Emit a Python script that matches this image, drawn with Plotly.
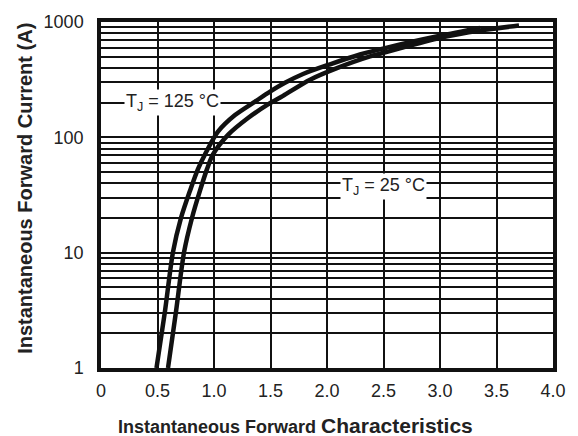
import plotly.graph_objects as go

v_125 = [0.491, 0.566, 0.637, 0.708, 0.788, 0.858, 0.920, 1.035, 1.186, 1.363, 1.496, 1.628, 1.788, 2.027, 2.292, 2.531, 3.0, 3.354]
i_125 = [1, 3.1, 10.1, 20, 34.5, 53, 71, 112, 156, 204, 249, 297, 354, 430, 523, 600, 759, 888]
v_25 = [0.593, 0.664, 0.735, 0.805, 0.876, 0.938, 0.991, 1.124, 1.301, 1.478, 1.611, 1.850, 2.088, 2.381, 2.531, 3.0, 3.354, 3.699]
i_25 = [1, 3.1, 10.1, 20, 34.5, 53, 71, 105, 147, 193, 229, 316, 398, 503, 550, 730, 845, 931]

x_ticks = [0, 0.5, 1.0, 1.5, 2.0, 2.5, 3.0, 3.5, 4.0]
x_labels = ["0", "0.5", "1.0", "1.5", "2.0", "2.5", "3.0", "3.5", "4.0"]
y_ticks = [1, 10, 100, 1000]
y_labels = ["1", "10", "100", "1000"]

fig = go.Figure()
for v, i in [(v_125, i_125), (v_25, i_25)]:
    fig.add_trace(go.Scatter(x=v, y=i, mode="lines",
                             line=dict(color="#111111", width=4.5, shape="spline", smoothing=0.8),
                             showlegend=False))

font = "Liberation Sans, Arial, sans-serif"
fig.update_layout(
    width=578, height=436,
    margin=dict(l=101, r=25, t=15, b=68),
    paper_bgcolor="white", plot_bgcolor="white",
    font=dict(family=font, color="#222222", size=17),
    xaxis=dict(range=[0, 4.0], tickvals=x_ticks, ticktext=x_labels,
               showgrid=True, gridcolor="#111111", gridwidth=2,
               showline=True, linecolor="#111111", linewidth=3.5, mirror=True,
               ticks="", zeroline=False, tickfont=dict(size=18, color="#222222"),
               ticklabelstandoff=4),
    yaxis=dict(type="log", range=[0, 3], tickvals=y_ticks, ticktext=y_labels,
               showgrid=True, gridcolor="#111111", gridwidth=2,
               minor=dict(dtick="D1", showgrid=True, gridcolor="#111111", gridwidth=1.6, ticks=""),
               showline=True, linecolor="#111111", linewidth=3.5, mirror=True,
               ticks="", zeroline=False, tickfont=dict(size=18, color="#222222"),
               ticklabelstandoff=10),
)

fig.add_annotation(x=0.431, y=-0.167, xref="paper", yref="paper", xanchor="center", yanchor="middle",
                   text="<b>Instantaneous Forward <span style='font-size:21px'>Characteristics</span></b>",
                   showarrow=False, font=dict(size=18, color="#222222"))
fig.add_annotation(x=-0.168, y=0.518, xref="paper", yref="paper", xanchor="center", yanchor="middle",
                   text="<b>Instantaneous Forward Current (A)</b>", textangle=-90,
                   showarrow=False, font=dict(size=20, color="#222222"))

fig.add_annotation(x=0.63, y=2.30, xref="x", yref="y", text="T<sub>J</sub> = 125 °C",
                   showarrow=False, bgcolor="white", font=dict(size=18, color="#222222"))
fig.add_annotation(x=2.50, y=1.57, xref="x", yref="y", text="T<sub>J</sub> = 25 °C",
                   showarrow=False, bgcolor="white", font=dict(size=18, color="#222222"))

fig.write_html("out.html")
